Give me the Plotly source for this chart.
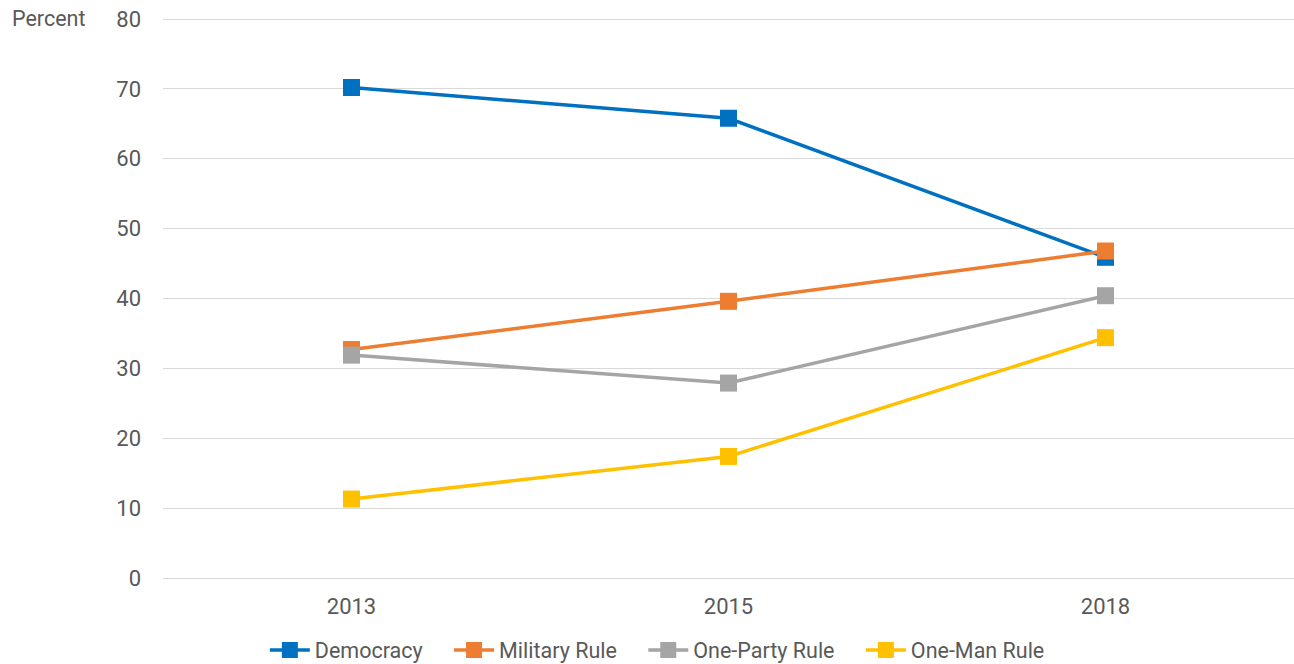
import plotly.graph_objects as go

years = ['2013', '2015', '2018']
democracy = [70.2, 65.8, 45.9]
military_rule = [32.7, 39.6, 46.8]
one_party_rule = [31.9, 27.9, 40.4]
one_man_rule = [11.3, 17.4, 34.4]
y_ticks = [0, 10, 20, 30, 40, 50, 60, 70, 80]

series = [
    ('Democracy', democracy, '#0070C0'),
    ('Military Rule', military_rule, '#ED7D31'),
    ('One-Party Rule', one_party_rule, '#A5A5A5'),
    ('One-Man Rule', one_man_rule, '#FFC000'),
]

W, H = 1294, 664
L, T, B = 163, 18, 86
PAD = '\u00a0' * 4  # extra room between legend entries

fig = go.Figure()
for i, (name, values, color) in enumerate(series):
    label = name + (PAD if i < len(series) - 1 else '')
    fig.add_trace(go.Scatter(
        x=years,
        y=values,
        name=label,
        mode='lines+markers',
        line=dict(color=color, width=3.5),
        marker=dict(symbol='square', size=17, color=color),
    ))

fig.update_layout(
    width=W,
    height=H,
    margin=dict(l=L, r=0, t=T, b=B),
    plot_bgcolor='white',
    paper_bgcolor='white',
    font=dict(family='Roboto', size=22, color='#595959'),
    xaxis=dict(
        type='category',
        showgrid=False,
        showline=True,
        linecolor='#D9D9D9',
        linewidth=1,
        ticks='',
        ticklabelstandoff=9,
        range=[-0.5, 2.5],
    ),
    yaxis=dict(
        range=[0, 80.15],
        tickvals=y_ticks,
        showgrid=True,
        gridcolor='#D9D9D9',
        gridwidth=1,
        zeroline=False,
        ticks='',
        ticklabelstandoff=21,
    ),
    legend=dict(
        orientation='h',
        xref='container',
        x=0.508,
        xanchor='center',
        yref='container',
        y=14 / H,
        yanchor='middle',
        itemwidth=40,
        font=dict(size=21.5),
    ),
    annotations=[dict(
        text='Percent',
        xref='paper', yref='paper',
        x=-(L - 10) / (W - L), y=1,
        xanchor='left', yanchor='middle',
        showarrow=False,
        font=dict(size=21.5),
    )],
)

fig.write_html(
    "out.html",
    config={'displayModeBar': False},
    post_script="document.body.style.margin='0';document.body.style.overflow='hidden';",
)
